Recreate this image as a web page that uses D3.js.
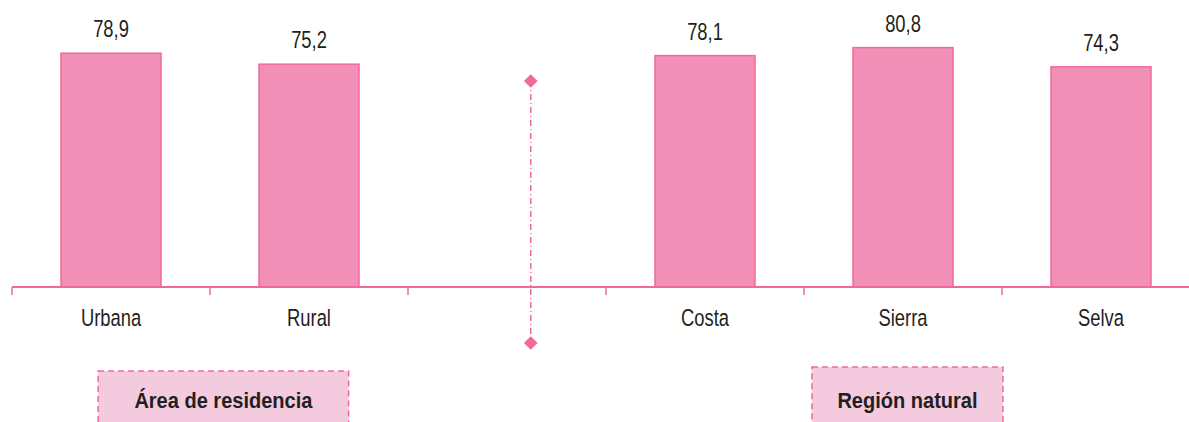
<!DOCTYPE html>
<html>
<head>
<meta charset="utf-8">
<script src="https://cdn.jsdelivr.net/npm/d3@7"></script>
<style>
  body { margin: 0; background: #fff; }
  text { font-family: "Liberation Sans", Arial, sans-serif; fill: #231f20; }
</style>
</head>
<body>
<script>
// categories (the empty one is the gap holding the divider)
var categories = ["Urbana", "Rural", "", "Costa", "Sierra", "Selva"];
var values = [78.9, 75.2, null, 78.1, 80.8, 74.3];
var valueLabels = ["78,9", "75,2", "", "78,1", "80,8", "74,3"];
var groupLabels = ["Área de residencia", "Región natural"];

var width = 1189, height = 422;
var baseY = 287;

var svg = d3.select("body").append("svg")
    .attr("width", width)
    .attr("height", height);

var x = d3.scaleBand().domain(categories).range([12, 1200]).padding(0);
var y = d3.scaleLinear().domain([0, 90]).range([baseY, baseY - 90 * 2.963]);
var bw = x.bandwidth();
var barW = 100;

// narrow text: squeeze the regular face horizontally
function narrow(sx) {
    return function(d) { return "translate(" + d.tx + "," + d.ty + ") scale(" + sx + ",1)"; };
}

var data = categories.map(function(c, i) {
    return { cat: c, value: values[i], label: valueLabels[i] };
}).filter(function(d) { return d.value != null; });

// bars
svg.selectAll("rect.bar").data(data).enter().append("rect")
    .attr("class", "bar")
    .attr("x", function(d) { return x(d.cat) + (bw - barW) / 2; })
    .attr("y", function(d) { return y(d.value); })
    .attr("width", barW)
    .attr("height", function(d) { return y(0) - y(d.value); })
    .attr("fill", "#f28fb6")
    .attr("stroke", "#ef6a9a")
    .attr("stroke-width", 1.5);

// value labels
data.forEach(function(d) { d.tx = x(d.cat) + bw / 2; d.ty = y(d.value) - 16; });
svg.selectAll("text.val").data(data).enter().append("text")
    .attr("class", "val")
    .attr("transform", narrow(0.75))
    .attr("text-anchor", "middle")
    .style("font-size", "24.5px")
    .text(function(d) { return d.label; });

// axis line + ticks at band edges
svg.append("line")
    .attr("x1", x(categories[0])).attr("x2", width)
    .attr("y1", y(0)).attr("y2", y(0))
    .attr("stroke", "#ef6a9a").attr("stroke-width", 2);

svg.selectAll("line.tick").data(categories).enter().append("line")
    .attr("class", "tick")
    .attr("x1", function(d) { return x(d); })
    .attr("x2", function(d) { return x(d); })
    .attr("y1", y(0)).attr("y2", y(0) + 8)
    .attr("stroke", "#ef6a9a").attr("stroke-width", 1.5);

var catData = categories.map(function(c) { return { name: c, tx: x(c) + bw / 2, ty: 326 }; });
svg.selectAll("text.cat").data(catData).enter().append("text")
    .attr("class", "cat")
    .attr("transform", narrow(0.75))
    .attr("text-anchor", "middle")
    .style("font-size", "24.5px")
    .text(function(d) { return d.name; });

// dash-dot divider with diamonds
var divX = x("") + bw * 0.62;
svg.append("line")
    .attr("x1", divX).attr("x2", divX)
    .attr("y1", 81).attr("y2", 343)
    .attr("stroke", "#ef6a9a").attr("stroke-width", 1.5)
    .attr("stroke-dasharray", "6,3,1,3");

svg.selectAll("path.diamond").data([81, 343]).enter().append("path")
    .attr("class", "diamond")
    .attr("d", d3.symbol().type(d3.symbolDiamond2).size(120))
    .attr("transform", function(d) { return "translate(" + divX + "," + d + ")"; })
    .attr("fill", "#ef6a9a");

// group label boxes
var boxes = [
    { label: groupLabels[0], x0: x("Urbana") + bw * 0.435, x1: x("Rural") + bw * 0.70, top: 371 },
    { label: groupLabels[1], x0: x("Sierra") + bw * 0.04, x1: x("Selva") + bw * 0.005, top: 367 }
];
boxes.forEach(function(d) { d.tx = (d.x0 + d.x1) / 2; d.ty = 408; });

svg.selectAll("rect.box").data(boxes).enter().append("rect")
    .attr("class", "box")
    .attr("x", function(d) { return d.x0; })
    .attr("y", function(d) { return d.top; })
    .attr("width", function(d) { return d.x1 - d.x0; })
    .attr("height", 80)
    .attr("fill", "#f4cadf")
    .attr("stroke", "#ef6a9a")
    .attr("stroke-width", 1.5)
    .attr("stroke-dasharray", "6,4");

svg.selectAll("text.box").data(boxes).enter().append("text")
    .attr("class", "box")
    .attr("transform", narrow(0.89))
    .attr("text-anchor", "middle")
    .style("font-size", "22.5px")
    .style("font-weight", "bold")
    .text(function(d) { return d.label; });
</script>
</body>
</html>
